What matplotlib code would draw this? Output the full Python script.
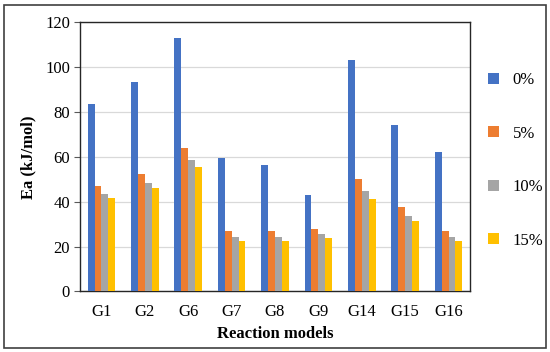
import matplotlib.pyplot as plt
import numpy as np
from matplotlib.patches import Rectangle

# Werte
modelle = ['G1', 'G2', 'G6', 'G7', 'G8', 'G9', 'G14', 'G15', 'G16']
serien = ['0%', '5%', '10%', '15%']
ea_0 = [83.6, 93.3, 112.9, 59.3, 56.3, 43.2, 103.1, 74.1, 62.1]
ea_5 = [46.9, 52.4, 63.9, 27.0, 27.0, 27.8, 50.0, 37.7, 27.0]
ea_10 = [43.4, 48.3, 58.7, 24.2, 24.2, 25.4, 44.7, 33.7, 24.2]
ea_15 = [41.6, 46.2, 55.4, 22.6, 22.6, 23.6, 41.1, 31.3, 22.6]
farben = ['#4472C4', '#ED7D31', '#A5A5A5', '#FFC000']

plt.rcParams['font.family'] = ['Liberation Serif', 'DejaVu Serif']

fig = plt.figure(figsize=(5.5, 3.52), dpi=100)
ax = fig.add_axes([0.145, 0.172, 0.71, 0.765])

x = np.arange(len(modelle))
breite = 0.16
for i, (werte, name) in enumerate(zip([ea_0, ea_5, ea_10, ea_15], serien)):
    ax.bar(x + (i - 1.5) * breite, werte, breite, color=farben[i], label=name, zorder=3)

ax.set_xlim(-0.5, len(modelle) - 0.5)
ax.set_ylim(0, 120)
ax.set_yticks(range(0, 121, 20))
ax.set_xticks(x)
ax.set_xticklabels(modelle)
ax.grid(axis='y', color='#D9D9D9', linewidth=0.9, zorder=0)
for s in ax.spines.values():
    s.set_color('#262626')
    s.set_linewidth(1.0)
ax.tick_params(axis='y', length=4, width=0.8, color='#595959', labelsize=12, pad=3)
ax.tick_params(axis='x', length=0, labelsize=12, pad=9)
ax.set_ylabel('Ea (kJ/mol)', fontsize=12, fontweight='bold', labelpad=6)
ax.set_xlabel('Reaction models', fontsize=12, fontweight='bold', labelpad=4)

handles, labels = ax.get_legend_handles_labels()
fig.legend(handles, labels, loc='upper left', bbox_to_anchor=(0.888, 0.795), frameon=False,
           fontsize=12, handlelength=0.65, handleheight=0.65,
           labelspacing=2.25, handletextpad=0.8, borderaxespad=0, borderpad=0)

# Rahmen um das ganze Bild
fig.patches.append(Rectangle((0.008, 0.012), 0.984, 0.975, transform=fig.transFigure,
                             fill=False, edgecolor='#404040', linewidth=1.2))

fig.savefig('out.png', dpi=100)
